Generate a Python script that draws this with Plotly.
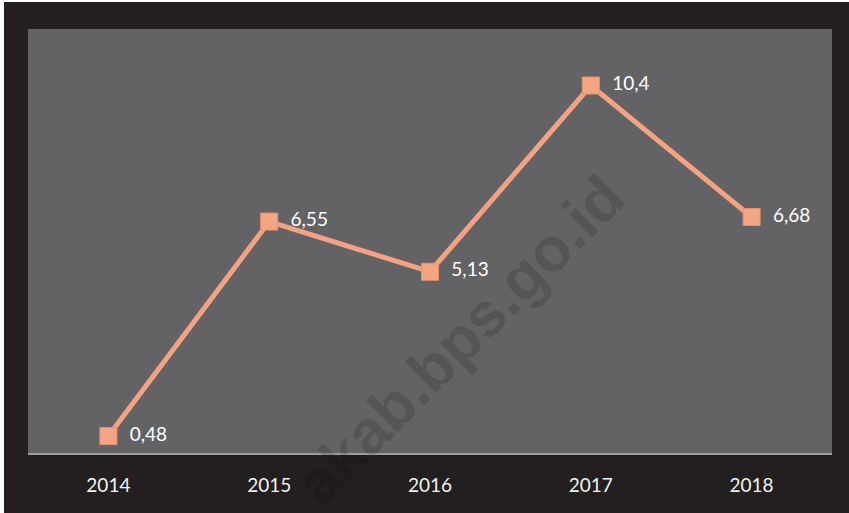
import plotly.graph_objects as go

years = ["2014", "2015", "2016", "2017", "2018"]
values = [0.48, 6.55, 5.13, 10.4, 6.68]
labels = ["0,48", "6,55", "5,13", "10,4", "6,68"]

LINE = "#f3a282"
fig = go.Figure()
fig.add_trace(go.Scatter(
    x=years, y=values, mode="lines+markers+text",
    text=["  " + t for t in labels], textposition="middle right",
    textfont=dict(family="Lato, Open Sans, sans-serif", size=19, color="#ffffff"),
    line=dict(color=LINE, width=5),
    marker=dict(symbol="square", size=17, color="#f4a584",
                line=dict(color="#e8926f", width=1)),
    cliponaxis=False, hoverinfo="skip", showlegend=False,
))

PW, PH, L, T, B = 804, 424, 28, 29, 60
fig.update_layout(
    width=849, height=513,
    margin=dict(l=L, r=17, t=T, b=B),
    paper_bgcolor="#231f20",
    plot_bgcolor="#636365",
    xaxis=dict(type="category", range=[-0.5, 4.5], showgrid=False, zeroline=False,
               showline=True, linecolor="#9c9c9e", linewidth=2, ticks="",
               tickfont=dict(family="Lato, Open Sans, sans-serif", size=19, color="#f2f2f2"),
               ticklabelstandoff=14, fixedrange=True),
    yaxis=dict(range=[0, 12], showgrid=False, zeroline=False, showticklabels=False,
               showline=False, fixedrange=True),
    shapes=[
        dict(type="rect", xref="paper", yref="paper", x0=-L / PW, x1=(-L + 4) / PW,
             y0=-B / PH, y1=1 + T / PH, fillcolor="#ffffff", line=dict(width=0)),
        dict(type="rect", xref="paper", yref="paper", x0=-L / PW, x1=1 + 17 / PW,
             y0=1 + (T - 2) / PH, y1=1 + T / PH, fillcolor="#ffffff", line=dict(width=0)),
    ],
    annotations=[dict(text="<b>akab.bps.go.id</b>", xref="paper", yref="paper",
                      x=(460 - L) / PW, y=(453 - 340) / PH, showarrow=False,
                      xanchor="center", yanchor="middle",
                      textangle=-45,
                      font=dict(family="Liberation Sans, Arial", size=62,
                                color="rgba(0,0,0,0.14)"))],
)
fig.write_html("out.html", config={"displayModeBar": False},
               post_script="document.body.style.margin='0px';")
